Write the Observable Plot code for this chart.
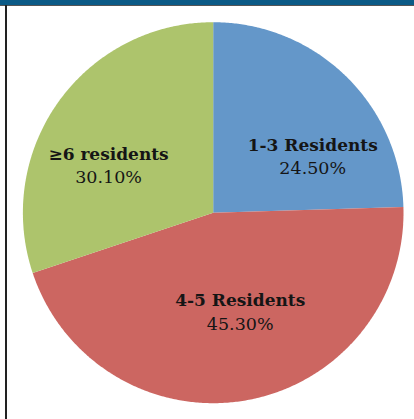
<!DOCTYPE html>
<html>
<head>
<meta charset="utf-8">
<script src="https://cdn.jsdelivr.net/npm/d3@7"></script>
<script src="https://cdn.jsdelivr.net/npm/@observablehq/plot@0.6"></script>
<style>
  html, body { margin: 0; padding: 0; background: #fff; }
  #wrap { position: relative; width: 414px; height: 419px; overflow: hidden; }
  #topbar { position: absolute; left: 0; top: 0; width: 414px; height: 5px; background: #0b5a86; border-bottom: 1px solid #555; }
  #leftline { position: absolute; left: 5px; top: 5px; width: 1.5px; height: 414px; background: #222; }
</style>
</head>
<body>
<div id="wrap"><div id="chart"></div><div id="topbar"></div><div id="leftline"></div></div>
<script>
const categories = ["1-3 Residents", "4-5 Residents", "≥6 residents"];
const values = [24.5, 45.3, 30.1];
const valueLabels = ["24.50%", "45.30%", "30.10%"];
const colors = ["#6497c9", "#cc6661", "#adc46c"];
// label nudges in px from the slice centroid (style only)
const labelDx = [20, 7, -12];
const labelDy = [20, -19, 14];

const pie = d3.pie().sort(null).value(d => d)(values);
const polys = [];
pie.forEach((p, i) => {
  polys.push({cat: categories[i], x: 0, y: 0});
  const steps = Math.ceil((p.endAngle - p.startAngle) / (Math.PI / 360));
  for (let k = 0; k <= steps; k++) {
    const a = p.startAngle + (p.endAngle - p.startAngle) * k / steps;
    polys.push({cat: categories[i], x: Math.sin(a), y: Math.cos(a)});
  }
});
const k = 0.6;
const labels = pie.map((p, i) => {
  const a = (p.startAngle + p.endAngle) / 2;
  return {cat: categories[i], val: valueLabels[i], x: k * Math.sin(a), y: k * Math.cos(a)};
});

const font = "'DejaVu Serif', serif";
const textMarks = [];
labels.forEach((l, i) => {
  textMarks.push(Plot.text([l], {x: "x", y: "y", text: "cat", dx: labelDx[i], dy: labelDy[i], lineAnchor: "bottom",
    fontSize: 17, fontWeight: "bold", fontFamily: font, fill: "#151515"}));
  textMarks.push(Plot.text([l], {x: "x", y: "y", text: "val", dx: labelDx[i], dy: labelDy[i] + 23.5, lineAnchor: "bottom",
    fontSize: 17.5, fontFamily: font, fill: "#151515"}));
});

const chart = Plot.plot({
  width: 414, height: 419,
  marginLeft: 22.4, marginRight: 11, marginTop: 21.7, marginBottom: 16.3,
  x: {domain: [-1, 1], axis: null},
  y: {domain: [-1, 1], axis: null},
  color: {domain: categories, range: colors},
  style: {background: "#fff", overflow: "visible"},
  marks: [
    Plot.line(polys, {x: "x", y: "y", z: "cat", fill: "cat", stroke: "none", curve: "linear-closed"}),
    ...textMarks
  ]
});
document.getElementById("chart").appendChild(chart);
</script>
</body>
</html>
